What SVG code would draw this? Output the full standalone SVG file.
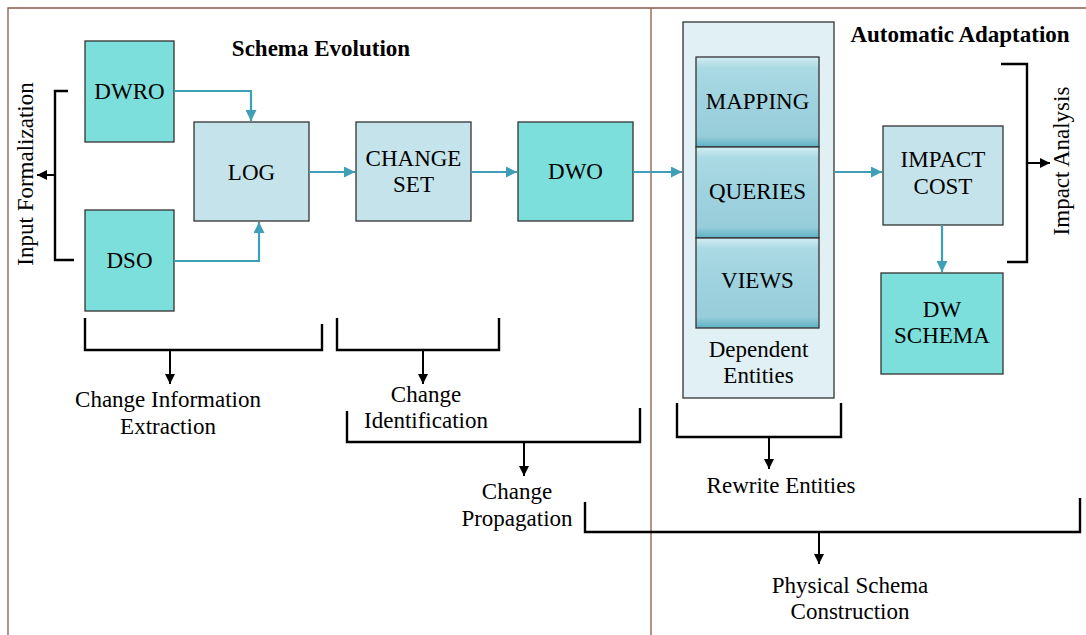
<svg xmlns="http://www.w3.org/2000/svg" width="1086" height="635" viewBox="0 0 1086 635">
  <style>
    .frame { fill: none; stroke: #8a5a4c; stroke-width: 1.3; }
    .box { stroke: #333; stroke-width: 1.3; }
    .dark { fill: #7ddfdb; }
    .light { fill: #c5e3ea; }
    .pale { fill: #e0f0f5; }
    .grad { fill: url(#cell); }
    .flow { fill: none; stroke: #3f9fb6; stroke-width: 2.2; }
    .brace { fill: none; stroke: #000; stroke-width: 2.4; }
    .lead { fill: none; stroke: #000; stroke-width: 2; }
    text { font-family: "Liberation Serif", "Times New Roman", serif; font-size: 23px; fill: #000; text-anchor: middle; }
    .title { font-weight: bold; }
  </style>
  <defs>
    <linearGradient id="cell" x1="0" y1="0" x2="0" y2="1">
      <stop offset="0" stop-color="#d2ecf2"/>
      <stop offset="0.12" stop-color="#aadae4"/>
      <stop offset="0.5" stop-color="#9ed2de"/>
      <stop offset="0.88" stop-color="#97cdd9"/>
      <stop offset="1" stop-color="#5cb1c4"/>
    </linearGradient>
    <marker id="tealHead" viewBox="0 0 10 10" refX="10" refY="5" markerWidth="5" markerHeight="5" orient="auto" markerUnits="strokeWidth">
      <path d="M0,0 L10,5 L0,10 z" fill="#3f9fb6"/>
    </marker>
    <marker id="blackHead" viewBox="0 0 10 10" refX="10" refY="5" markerWidth="5" markerHeight="5" orient="auto" markerUnits="strokeWidth">
      <path d="M0,0 L10,5 L0,10 z" fill="#000"/>
    </marker>
  </defs>

  <rect width="1086" height="635" fill="#fff"/>

  <!-- outer frame and the divider between the two stages -->
  <g id="frame">
    <path class="frame" d="M8,635 V8 H1086"/>
    <path class="frame" d="M651,8 V635"/>
  </g>

  <text class="title" x="321" y="56">Schema Evolution</text>
  <text class="title" x="960" y="42">Automatic Adaptation</text>

  <g id="dwro">
    <rect class="box dark" x="85" y="41" width="89" height="101"/>
    <text x="129.5" y="99">DWRO</text>
  </g>
  <g id="dso">
    <rect class="box dark" x="85" y="210" width="89" height="101"/>
    <text x="129.5" y="268">DSO</text>
  </g>
  <g id="log">
    <rect class="box light" x="194" y="122" width="115" height="99"/>
    <text x="251.5" y="180">LOG</text>
  </g>
  <g id="change-set">
    <rect class="box light" x="356" y="122" width="115" height="99"/>
    <text x="413.5" y="166">CHANGE</text>
    <text x="413.5" y="192">SET</text>
  </g>
  <g id="dwo">
    <rect class="box dark" x="518" y="122" width="115" height="99"/>
    <text x="575.5" y="179">DWO</text>
  </g>
  <g id="dependent-entities">
    <rect class="box pale" x="683" y="22" width="151" height="376"/>
    <text x="758.5" y="357">Dependent</text>
    <text x="758.5" y="383">Entities</text>
  </g>
  <g id="mapping">
    <rect class="box grad" x="696" y="57" width="123" height="90"/>
    <text x="757.5" y="109">MAPPING</text>
  </g>
  <g id="queries">
    <rect class="box grad" x="696" y="147" width="123" height="91"/>
    <text x="757.5" y="199">QUERIES</text>
  </g>
  <g id="views">
    <rect class="box grad" x="696" y="238" width="123" height="90"/>
    <text x="757.5" y="288">VIEWS</text>
  </g>
  <g id="impact-cost">
    <rect class="box light" x="883" y="126" width="120" height="99"/>
    <text x="943" y="167">IMPACT</text>
    <text x="943" y="194">COST</text>
  </g>
  <g id="dw-schema">
    <rect class="box dark" x="881" y="273" width="122" height="101"/>
    <text x="942" y="317">DW</text>
    <text x="942" y="343">SCHEMA</text>
  </g>

  <!-- data flow between the boxes -->
  <g id="connectors">
    <path class="flow" d="M174,91 H251 V121" marker-end="url(#tealHead)"/>
    <path class="flow" d="M174,261 H259 V222" marker-end="url(#tealHead)"/>
    <path class="flow" d="M309,172 H355" marker-end="url(#tealHead)"/>
    <path class="flow" d="M471,172 H517" marker-end="url(#tealHead)"/>
    <path class="flow" d="M633,172 H682" marker-end="url(#tealHead)"/>
    <path class="flow" d="M834,172 H882" marker-end="url(#tealHead)"/>
    <path class="flow" d="M942,225 V272" marker-end="url(#tealHead)"/>
  </g>

  <!-- brackets grouping the steps -->
  <g id="brackets">
    <path class="brace" d="M68,91 H55 V260 H74"/>
    <path class="lead" d="M55,175 H37" marker-end="url(#blackHead)"/>
    <text transform="translate(33,174) rotate(-90)">Input Formalization</text>

    <path class="brace" d="M1001,64 H1027 V262 H1007"/>
    <path class="lead" d="M1027,163 H1050" marker-end="url(#blackHead)"/>
    <text transform="translate(1069,161) rotate(-90)">Impact Analysis</text>

    <path class="brace" d="M85,318 V350 H322 V324"/>
    <path class="lead" d="M170,350 V384" marker-end="url(#blackHead)"/>
    <text x="168" y="407">Change Information</text>
    <text x="168" y="434">Extraction</text>

    <path class="brace" d="M337,318 V350 H499 V318"/>
    <path class="lead" d="M423,350 V384" marker-end="url(#blackHead)"/>
    <text x="426" y="402">Change</text>
    <text x="426" y="428">Identification</text>

    <path class="brace" d="M347,411 V442 H640 V408"/>
    <path class="lead" d="M524,442 V476" marker-end="url(#blackHead)"/>
    <text x="517" y="499">Change</text>
    <text x="517" y="526">Propagation</text>

    <path class="brace" d="M677,403 V437 H841 V403"/>
    <path class="lead" d="M769,437 V469" marker-end="url(#blackHead)"/>
    <text x="781" y="493">Rewrite Entities</text>

    <path class="brace" d="M585,502 V532 H1080 V498"/>
    <path class="lead" d="M819,532 V564" marker-end="url(#blackHead)"/>
    <text x="850" y="593">Physical Schema</text>
    <text x="850" y="619">Construction</text>
  </g>
</svg>
